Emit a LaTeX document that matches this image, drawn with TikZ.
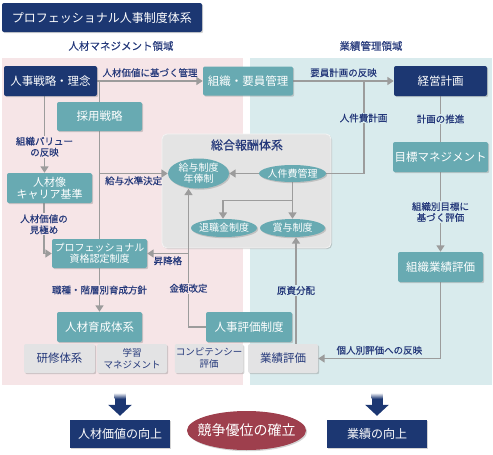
\documentclass[tikz,border=0pt]{standalone}
\usepackage{fontspec}
\setmainfont{Noto Sans CJK JP}
\newfontfamily\lblfont{Noto Sans CJK JP}[FakeBold=0.4]
\usetikzlibrary{arrows.meta, positioning, shapes.geometric, shadows, calc}
\definecolor{hrNavy}{HTML}{1C3772}
\definecolor{hrTeal}{HTML}{68AAB2}
\definecolor{hrPink}{HTML}{F6E5E7}
\definecolor{hrBlue}{HTML}{D9EBED}
\definecolor{hrGray}{HTML}{E3E3E4}
\definecolor{hrPanel}{HTML}{E4E4E4}
\definecolor{hrLine}{HTML}{9C9C9C}
\definecolor{hrLabel}{HTML}{24387A}
\definecolor{hrRed}{HTML}{9E3F4D}
\pgfdeclarelayer{bg}
\pgfdeclarelayer{ln}
\pgfsetlayers{bg,ln,main}

\begin{document}
\begin{tikzpicture}[x=1pt, y=-1pt, >={Triangle[width=8pt,length=6.5pt]},
  shd/.style={drop shadow={shadow xshift=1.2pt, shadow yshift=-1.2pt, opacity=0.35}},
  box/.style={shd, rounded corners=2pt, align=center, inner sep=1pt, text=white, font=\fontsize{11.5}{13}\selectfont},
  nv/.style={box, fill=hrNavy},
  tl/.style={box, fill=hrTeal},
  gy/.style={box, fill=hrGray, text=hrLabel, minimum height=29pt},
  ov/.style={shd, ellipse, fill=hrTeal, text=white, align=center, inner xsep=-4pt, inner ysep=-1pt, font=\fontsize{10}{11}\selectfont},
  lbl/.style={text=hrLabel, align=center, inner sep=1pt, font=\lblfont\fontsize{9.5}{11}\selectfont},
  reg/.style={text=hrLabel, font=\lblfont\fontsize{10.5}{12}\selectfont},
  conn/.style={draw=hrLine, line width=1.8pt},
  blk/.style={draw=hrNavy, line width=11pt, -{Triangle[width=23pt,length=11pt]}, shorten >=4pt}]
\useasboundingbox (0,0) rectangle (493,455);

\begin{pgfonlayer}{bg}
\node[fill=hrPink, inner sep=0, minimum width=241pt, minimum height=327pt] (regL) at (122.5,221) {};
\node[fill=hrBlue, inner sep=0, minimum width=242pt, minimum height=327pt] (regR) at (371,221) {};
\node[shd, fill=hrPanel, draw=white!60!hrPanel, line width=0.8pt, rounded corners=5pt, inner sep=0, minimum width=169pt, minimum height=114pt] (sogo) at (246.5,191) {};
\end{pgfonlayer}

\node[nv, minimum width=200pt, minimum height=29pt, font=\fontsize{12}{14}\selectfont] (title) at (102,17.5) {プロフェッショナル人事制度体系};
\node[reg] (regLtxt) at (121,46) {人材マネジメント領域};
\node[reg] (regRtxt) at (371,46) {業績管理領域};

\node[nv, minimum width=93pt, minimum height=30pt] (senryaku) at (50.5,81) {人事戦略・理念};
\node[tl, minimum width=85pt, minimum height=29pt] (saiyo) at (99.5,116.5) {採用戦略};
\node[tl, minimum width=90pt, minimum height=29pt] (soshiki) at (248,81) {組織・要員管理};
\node[nv, minimum width=93pt, minimum height=30pt] (keiei) at (440.5,81) {経営計画};
\node[tl, minimum width=95pt, minimum height=30pt] (mokuhyo) at (440.5,157) {目標マネジメント};
\node[tl, minimum width=85pt, minimum height=30pt] (sosikihyoka) at (440.5,267) {組織業績評価};
\node[tl, minimum width=85pt, minimum height=30pt, font=\fontsize{11}{12}\selectfont] (jinzaizo) at (49.5,188) {人材像\\キャリア基準};
\node[tl, minimum width=95pt, minimum height=29pt, font=\fontsize{10}{11.5}\selectfont] (shikaku) at (99.5,253.5) {プロフェッショナル\\資格認定制度};
\node[tl, minimum width=85pt, minimum height=30pt] (ikusei) at (99.5,327) {人材育成体系};
\node[tl, minimum width=86pt, minimum height=30pt] (hyoka) at (249,327) {人事評価制度};
\node[gy, minimum width=71pt] (kenshu) at (59.5,358.5) {研修体系};
\node[gy, minimum width=70pt, font=\fontsize{9.5}{12.5}\selectfont] (gakushu) at (132,358.5) {学習\\マネジメント};
\node[gy, minimum width=68pt, font=\fontsize{9.5}{12}\selectfont] (compe) at (209,358.5) {コンピテンシー\\評価};
\node[gy, minimum width=70pt] (gyoseki) at (283,358.5) {業績評価};

% 総合報酬体系
\node[reg, font=\lblfont\fontsize{12}{14}\selectfont] (sogotxt) at (247,145) {総合報酬体系};
\node[ov, minimum width=61pt, minimum height=30pt] (kyuyo) at (198.5,173.5) {給与制度\\年俸制};
\node[ov, minimum width=67pt, minimum height=17pt] (jinkenhi) at (292.5,173.5) {人件費管理};
\node[ov, minimum width=66pt, minimum height=18pt] (taishoku) at (224,228) {退職金制度};
\node[ov, minimum width=65pt, minimum height=18pt] (shoyo) at (292.5,228) {賞与制度};

\node[nv, rounded corners=0pt, minimum width=100pt, minimum height=28pt, font=\fontsize{12}{14}\selectfont] (jinzaikachi) at (120,434) {人材価値の向上};
\node[shd, ellipse, fill=hrRed, text=white, inner xsep=-14pt, inner ysep=0pt, minimum width=119pt, minimum height=39pt, font=\fontsize{14}{16}\selectfont] (kyoso) at (246.5,430.5) {競争優位の確立};
\node[nv, rounded corners=0pt, minimum width=100pt, minimum height=28pt, font=\fontsize{12}{14}\selectfont] (gyosekikojo) at (377,434) {業績の向上};

\begin{pgfonlayer}{ln}
\draw[conn,->] (senryaku) -- node[lbl, above=2pt] {人材価値に基づく管理} (soshiki);
\coordinate (jA) at (saiyo.north |- senryaku.east);
\draw[conn] (jA) -- (jA |- shikaku.north);
\draw[conn,->] (jA |- kyuyo.west) -- node[lbl, below=1pt] {給与水準決定} (kyuyo.west);
\draw[conn,->] ([xshift=-6pt]senryaku.south) -- ([xshift=-6pt]senryaku.south |- jinzaizo.north) node[lbl, fill=hrPink, pos=0.66] {組織バリュー\\の反映};
\draw[conn,->] ([xshift=-5.5pt]jinzaizo.south) |- node[lbl, fill=hrPink, pos=0.21] {人材価値の\\見極め} (shikaku.west);
\draw[conn,->] (shikaku) -- node[lbl, fill=hrPink] {職種・階層別育成方針} (ikusei);
\draw[conn,->] (soshiki) -- node[lbl, above=2pt] {要員計画の反映} (keiei);
\coordinate (jB) at ($(soshiki.east)!0.7!(keiei.west)$);
\draw[conn] (jB) |- node[lbl, fill=hrBlue, pos=0.2] {人件費計画} (jinkenhi.east);
\draw[conn,->] (jinkenhi) -- (kyuyo);
\draw[conn,->] (jinkenhi) -- (shoyo);
\coordinate (jC) at ($(jinkenhi.south)!0.5!(shoyo.north)$);
\draw[conn,->] (jC) -| ([xshift=-1pt]taishoku.north);
\draw[conn] (keiei) -- node[lbl, fill=hrBlue] {計画の推進} (mokuhyo);
\draw[conn,->] (mokuhyo) -- node[lbl, fill=hrBlue] {組織別目標に\\基づく評価} (sosikihyoka);
\draw[conn,->] (sosikihyoka) |- node[lbl, pos=0.75, above=2pt] {個人別評価への反映} (gyoseki);
\draw[conn,->] ([xshift=13pt]gyoseki.north) -- ([xshift=13pt]gyoseki.north |- shoyo.south) node[lbl, fill=hrBlue, midway] {原資分配};
\draw[conn,->] (hyoka.west) -| node[lbl, fill=hrPink, pos=0.64] {金額改定} ([xshift=-10pt]kyuyo.south);
\coordinate (jD) at ([xshift=-10pt]kyuyo.south |- shikaku.east);
\draw[conn,->] (jD) -- node[lbl, below=1pt] {昇降格} (shikaku.east);
\draw[blk] ([yshift=-8pt]regL.south -| jinzaikachi.north) -- (jinzaikachi.north);
\draw[blk] ([yshift=-8pt]regR.south -| gyosekikojo.north) -- (gyosekikojo.north);
% faded tops of the block arrows
\shade[top color=white, bottom color=hrNavy] ([xshift=-5.5pt, yshift=-8pt]regL.south -| jinzaikachi.north) rectangle ([xshift=5.5pt, yshift=-14pt]regL.south -| jinzaikachi.north);
\shade[top color=white, bottom color=hrNavy] ([xshift=-5.5pt, yshift=-8pt]regR.south -| gyosekikojo.north) rectangle ([xshift=5.5pt, yshift=-14pt]regR.south -| gyosekikojo.north);
\end{pgfonlayer}
\end{tikzpicture}
\end{document}
